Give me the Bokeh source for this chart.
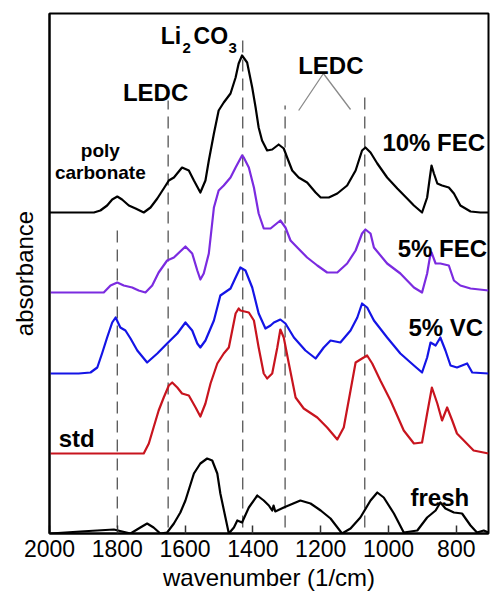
from bokeh.plotting import figure
from bokeh.models import Range1d, Label, FixedTicker
from bokeh.embed import file_html
from bokeh.resources import INLINE

# ---- data: wavenumber (1/cm) and stacked absorbance (a.u.) ----
fec10_w = [2000,1869,1850,1830,1815,1800,1786,1766,1746,1722,1702,1682,1663,1648,1633,1609,1589,1574,1555,1540,1530,1515,1501,1486,1466,1451,1442,1432,
           1417,1402,1392,1383,1373,1358,1343,1324,1309,1299,1284,1265,1240,1215,1200,1176,1151,1122,1097,1078,1068,1053,1033,1004,974,945,925,901,
           886,878,873,866,856,842,822,807,788,758,729,705]
fec10_a = [321,321,323,328,334,337,334,328,325,321,326,335,345,353,356,366,363,353,341,353,373,400,423,431,440,456,470,478,
           471,446,426,406,393,383,384,389,385,376,363,356,351,341,336,336,340,348,363,383,386,381,370,356,345,335,328,321,
           336,356,368,360,350,348,346,340,328,322,321,321]

fec5_w = [1997,1840,1820,1800,1781,1756,1737,1717,1697,1678,1653,1633,1599,1579,1564,1555,1545,1530,1515,1501,1486,1466,1451,1432,
          1427,1412,1397,1383,1368,1348,1319,1304,1289,1269,1240,1210,1181,1151,1122,1097,1078,1068,1053,1043,1004,965,925,901,
          886,878,873,861,847,822,807,788,758,705]
fec5_a = [241,241,248,251,248,246,243,241,248,261,273,276,287,280,263,254,260,280,326,343,348,356,366,378,
          376,366,346,320,305,305,313,306,293,286,276,268,261,261,270,283,300,304,300,286,270,260,246,241,
          260,276,281,270,270,268,253,248,245,243]

vc5_w = [1997,1914,1879,1859,1845,1830,1815,1805,1791,1776,1761,1741,1712,1682,1653,1623,1599,1579,1564,1555,1540,1515,1496,1466,1451,1437,
         1422,1402,1383,1363,1348,1338,1319,1304,1279,1245,1215,1191,1171,1142,1112,1092,1078,1063,1043,1004,965,925,901,
         886,876,861,847,832,817,798,768,753,705]
vc5_a = [160,160,161,166,180,196,211,216,206,203,195,183,171,180,190,200,211,203,190,186,193,213,238,245,256,266,
         263,246,220,205,208,211,214,210,196,183,175,186,193,191,203,216,230,226,213,196,180,168,161,
         176,191,188,196,183,168,166,170,161,160]

std_w = [1997,1722,1707,1693,1678,1663,1648,1638,1623,1609,1589,1569,1555,1540,1525,1505,1486,1471,1461,1451,1442,1437,
         1412,1397,1383,1368,1358,1343,1328,1319,1309,1294,1274,1250,1210,1181,1151,1132,1112,1097,1078,1063,1048,1024,994,955,925,901,
         886,872,856,842,827,812,798,749,705]
std_a = [80,80,90,106,123,136,148,151,146,140,138,126,117,130,150,170,180,186,203,220,225,223,
         221,213,186,160,155,160,186,204,196,170,136,125,116,106,94,106,143,171,175,178,170,153,133,103,90,91,
         120,146,130,113,126,113,100,83,80]

fresh_w = [1997,1909,1810,1761,1732,1712,1693,1673,1653,1633,1614,1599,1574,1555,1535,1520,1505,1496,1481,1471,1456,1446,1432,
           1412,1387,1368,1353,1343,1339,1334,1309,1260,1230,1200,1171,1137,1112,1083,1053,1033,1014,984,955,915,886,861,847,832,807,783,758,739,719,705]
fresh_a = [0,2,4,0,6,10,6,0,1,10,21,33,60,70,75,73,60,40,16,0,6,13,11,
           26,38,33,28,23,28,22,26,33,30,23,15,0,5,16,33,41,36,20,1,3,16,23,31,25,21,20,8,1,3,1]

series_colors = ["black", "#7b2be0", "#1414e6", "#c8141e", "black"]

# assignment markers (dashed lines) and their top ends
marker_w = [1800, 1650, 1430, 1305, 1070]
marker_top = [306, 433, 493, 428, 440]
marker_bottom = [6, 6, 6, 6, 6]

# LEDC bracket
bracket_w = [1265, 1192, 1112]
bracket_a = [423, 460, 424]

xticks = [2000, 1800, 1600, 1400, 1200, 1000, 800]

FONT = "Liberation Sans"

p = figure(width=490, height=595, x_range=Range1d(2000, 705), y_range=Range1d(0, 520),
           output_backend="svg", toolbar_location=None,
           min_border_left=49, min_border_right=2, min_border_top=13, min_border_bottom=62)

p.xgrid.visible = False
p.ygrid.visible = False
p.outline_line_color = "black"
p.outline_line_width = 2
p.background_fill_color = "white"
p.border_fill_color = "white"

# x axis
xa = p.xaxis[0]
xa.ticker = FixedTicker(ticks=xticks)
xa.minor_tick_line_color = None
xa.major_tick_in = 8
xa.major_tick_out = 0
xa.major_tick_line_width = 1.5
xa.major_tick_line_color = "#333333"
xa.axis_line_width = 2
xa.axis_line_color = "black"
xa.major_label_text_font = FONT
xa.major_label_text_font_size = "23px"
xa.major_label_text_color = "black"
xa.major_label_standoff = 6
xa.axis_label = "wavenumber (1/cm)"
xa.axis_label_text_font = FONT
xa.axis_label_text_font_size = "24px"
xa.axis_label_text_font_style = "normal"
xa.axis_label_text_color = "black"
xa.axis_label_standoff = 4

# y axis
ya = p.yaxis[0]
ya.ticker = FixedTicker(ticks=[])
ya.minor_tick_line_color = None
ya.major_tick_in = 0
ya.major_tick_out = 0
ya.major_label_standoff = 0
ya.axis_line_width = 2
ya.axis_line_color = "black"
ya.axis_label = "absorbance"
ya.axis_label_text_font = FONT
ya.axis_label_text_font_size = "24px"
ya.axis_label_text_font_style = "normal"
ya.axis_label_text_color = "black"
ya.axis_label_standoff = 12

# dashed marker lines
p.segment(x0=marker_w, y0=marker_bottom, x1=marker_w, y1=marker_top,
          line_color="#555555", line_width=1.3, line_dash="12 7")

# bracket
p.line(bracket_w, bracket_a, line_color="#8a8a8a", line_width=1.3)

# spectra
for (w, a), c in zip([(fec10_w, fec10_a), (fec5_w, fec5_a), (vc5_w, vc5_a),
                      (std_w, std_a), (fresh_w, fresh_a)], series_colors):
    p.line(w, a, line_color=c, line_width=2.2, line_join="round")

def lab(x, y, text, size="24px", align="left", style="bold"):
    p.add_layout(Label(x=x, y=y, text=text, text_font=FONT, text_font_size=size,
                       text_font_style=style, text_align=align,
                       text_baseline="alphabetic", text_color="black"))

lab(1018, 391, "10% FEC")
lab(973, 285, "5% FEC")
lab(941, 206, "5% VC")
lab(1973, 95, "std")
lab(935, 36, "fresh")
lab(1687, 441, "LEDC", align="center")
lab(1170, 468, "LEDC", align="center")
lab(1672, 498, "Li", size="23px")
lab(1608, 486, "2", size="15px")
lab(1575, 498, "CO", size="23px")
lab(1472, 486, "3", size="15px")
lab(1850, 383, "poly", size="19px", align="center")
lab(1850, 361, "carbonate", size="19px", align="center")

open("out.html", "w").write(file_html(p, INLINE))
